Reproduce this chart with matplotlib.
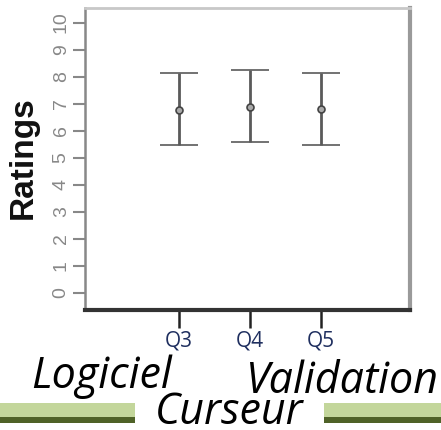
"""
Error bar chart of ratings for Q3-Q5 with slide captions below.
"""

import matplotlib
matplotlib.use("Agg")
import matplotlib.pyplot as plt
from matplotlib.patches import Rectangle

# data
questions = ["Q3", "Q4", "Q5"]
means = [6.78, 6.89, 6.81]
lower = [5.48, 5.59, 5.48]
upper = [8.15, 8.26, 8.15]
y_ticks = list(range(0, 11))

W, H = 441, 430
fig = plt.figure(figsize=(W / 100, H / 100), dpi=100)


def px(x, y):
    # pixel coords (from top-left) to figure fraction
    return x / W, 1 - y / H


left, top = px(85, 8)
right, bottom = px(410, 310)
ax = fig.add_axes([left, bottom, right - left, top - bottom])

xs = list(range(len(questions)))
yerr = [[m - lo for m, lo in zip(means, lower)], [up - m for m, up in zip(means, upper)]]
ax.errorbar(xs, means, yerr=yerr, fmt='o', color='#555555', ecolor='#5a5a5a',
            elinewidth=2, capsize=13.5, capthick=1.8, markersize=5,
            markerfacecolor='#aaaaaa', markeredgecolor='#444444', markeredgewidth=1.2)

ax.set_xlim(-1.32, 3.25)
ax.set_ylim(-0.63, 10.54)
ax.set_xticks(xs)
ax.set_xticklabels(questions, fontsize=15, color='#1f2f5f', family='Open Sans')
ax.set_yticks(y_ticks)
ax.set_yticklabels([str(t) for t in y_ticks], rotation=90, va='center',
                   fontsize=14, color='#888888', family='Liberation Sans')
ax.tick_params(axis='y', length=9, width=1.5, color='#888888', pad=2)
ax.tick_params(axis='x', length=13, width=1.8, color='#222222', pad=2)

ax.spines['left'].set_color('#888888')
ax.spines['left'].set_linewidth(1.8)
ax.spines['bottom'].set_color('#333333')
ax.spines['bottom'].set_linewidth(3)
ax.spines['right'].set_color('#9a9a9a')
ax.spines['right'].set_linewidth(3)
ax.spines['top'].set_color('#c8c8c8')
ax.spines['top'].set_linewidth(2)

fig.text(*px(23, 158), "Ratings", rotation=90, ha='center', va='center',
         fontsize=24, fontweight='bold', family='Liberation Sans', color='#111111')

# slide captions
fig.text(*px(31, 388), "Logiciel", ha='left', va='baseline', fontsize=31,
         style='italic', family='Open Sans', color='black')
fig.text(*px(246, 393), "Validation", ha='left', va='baseline', fontsize=31,
         style='italic', family='Open Sans', color='black')
fig.text(*px(155, 424), "Curseur", ha='left', va='baseline', fontsize=31,
         style='italic', family='Open Sans', color='black')

# green separator bars
for x0, x1 in [(0, 135), (324, 441)]:
    bx, by = px(x0, 417)
    fig.patches.append(Rectangle((bx, by), (x1 - x0) / W, 14 / H, transform=fig.transFigure,
                                 facecolor='#c3d69b', edgecolor='none'))
    bx, by = px(x0, 423)
    fig.patches.append(Rectangle((bx, by), (x1 - x0) / W, 6 / H, transform=fig.transFigure,
                                 facecolor='#4f6228', edgecolor='none'))

fig.savefig("out.png", dpi=100)
